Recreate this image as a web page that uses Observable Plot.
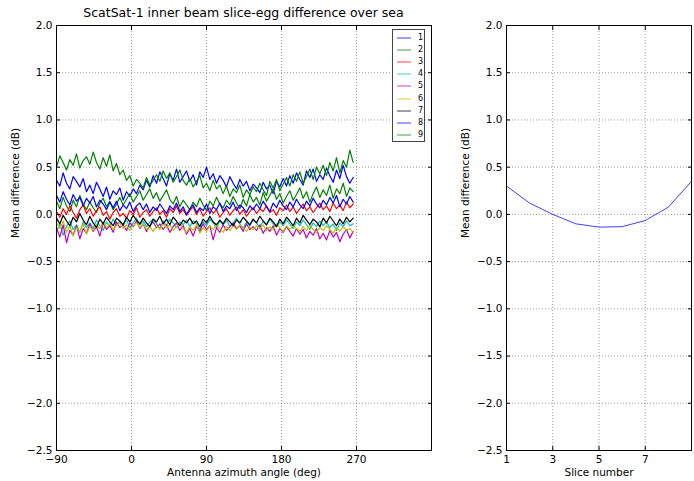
<!DOCTYPE html>
<html><head><meta charset="utf-8">
<script src="https://cdn.jsdelivr.net/npm/d3@7"></script>
<script src="https://cdn.jsdelivr.net/npm/@observablehq/plot@0.6"></script>
<style>
body{margin:0;background:#fff;font-family:"DejaVu Sans",sans-serif;}
#wrap{position:relative;width:694px;height:481px;overflow:hidden;background:#fff;}
#wrap > div.panel{position:absolute;top:0;}
#title{position:absolute;left:56px;width:375px;top:5px;text-align:center;font-size:12.5px;color:#000;white-space:nowrap;}
#legend{position:absolute;left:392px;top:29px;width:33px;height:113px;border:1px solid #444;background:#fff;box-sizing:border-box;font-size:8px;}
#legend .row{position:absolute;left:0;height:12px;width:33px;}
#legend .row svg{position:absolute;left:4px;top:3px;}
#legend .row span{position:absolute;left:25px;top:0px;line-height:12px;}
</style></head>
<body><div id="wrap"><div id="title">ScatSat-1 inner beam slice-egg difference over sea</div></div>
<script>
// ---------- data ----------
const seriesNames = ["1","2","3","4","5","6","7","8","9"];
const seriesColors = ["#0000ff","#008000","#ff0000","#00bfbf","#bf00bf","#bfbf00","#000000","#0000ff","#008000"];
const azimuth = [-90,-86,-82,-78,-74,-70,-66,-62,-58,-54,
  -50,-46,-42,-38,-34,-30,-26,-22,-18,-14,
  -10,-6,-2,2,6,10,14,18,22,26,
  30,34,38,42,46,50,54,58,62,66,
  70,74,78,82,86,90,94,98,102,106,
  110,114,118,122,126,130,134,138,142,146,
  150,154,158,162,166,170,174,178,182,186,
  190,194,198,202,206,210,214,218,222,226,
  230,234,238,242,246,250,254,258,262,266];
const s1 = [0.36,0.30,0.44,0.33,0.27,0.40,0.35,0.29,0.38,0.24,
  0.31,0.22,0.34,0.27,0.19,0.29,0.16,0.25,0.21,0.28,
  0.15,0.24,0.19,0.27,0.22,0.31,0.26,0.36,0.29,0.41,
  0.33,0.45,0.38,0.30,0.43,0.36,0.48,0.34,0.40,0.46,
  0.35,0.42,0.31,0.45,0.39,0.50,0.37,0.43,0.33,0.41,
  0.36,0.29,0.40,0.33,0.27,0.37,0.30,0.35,0.25,0.32,
  0.28,0.23,0.34,0.27,0.31,0.22,0.35,0.29,0.38,0.30,
  0.41,0.33,0.44,0.37,0.31,0.46,0.39,0.48,0.35,0.42,
  0.37,0.49,0.41,0.34,0.47,0.38,0.52,0.40,0.33,0.39];
const s2 = [0.14,0.06,0.18,0.09,0.03,0.15,0.08,0.20,0.11,0.05,
  0.13,0.07,0.02,0.12,0.17,0.08,0.14,0.05,0.11,0.18,
  0.10,0.16,0.22,0.13,0.19,0.25,0.15,0.21,0.27,0.17,
  0.23,0.14,0.20,0.26,0.16,0.11,0.19,0.08,0.15,0.10,
  0.05,0.13,0.08,0.17,0.10,0.04,0.14,0.09,0.18,0.11,
  0.07,0.15,0.10,0.19,0.12,0.06,0.16,0.09,0.21,0.13,
  0.18,0.10,0.23,0.14,0.20,0.27,0.16,0.22,0.12,0.19,
  0.25,0.15,0.21,0.28,0.17,0.24,0.13,0.22,0.29,0.18,
  0.26,0.20,0.31,0.17,0.27,0.22,0.33,0.19,0.28,0.24];
const s3 = [0.03,-0.03,0.06,0.00,0.09,0.02,-0.04,0.05,0.10,0.01,
  0.06,-0.02,0.04,0.08,-0.01,0.03,-0.05,0.02,0.06,-0.02,
  0.01,-0.04,0.04,0.00,0.07,-0.03,0.02,0.05,-0.02,0.03,
  0.07,0.00,0.04,-0.03,0.06,0.02,0.09,0.01,0.05,-0.01,
  0.04,0.08,0.00,0.06,-0.02,0.03,0.07,0.01,0.05,-0.03,
  0.02,0.06,-0.01,0.04,0.08,0.00,0.05,-0.02,0.03,0.07,
  0.01,0.06,0.03,0.09,0.02,0.05,-0.01,0.07,0.04,0.10,
  0.03,0.08,0.01,0.06,0.11,0.04,0.08,0.02,0.07,0.12,
  0.05,0.09,0.03,0.12,0.06,0.10,0.04,0.13,0.07,0.11];
const s4 = [-0.18,-0.10,-0.22,-0.13,-0.07,-0.16,-0.11,-0.19,-0.08,-0.14,
  -0.09,-0.15,-0.06,-0.12,-0.17,-0.08,-0.13,-0.05,-0.11,-0.07,
  -0.12,-0.06,-0.14,-0.09,-0.04,-0.11,-0.07,-0.13,-0.08,-0.05,
  -0.10,-0.15,-0.07,-0.12,-0.05,-0.09,-0.14,-0.08,-0.11,-0.06,
  -0.13,-0.07,-0.10,-0.16,-0.08,-0.12,-0.05,-0.09,-0.14,-0.07,
  -0.11,-0.06,-0.13,-0.09,-0.04,-0.10,-0.15,-0.08,-0.12,-0.06,
  -0.09,-0.14,-0.07,-0.11,-0.05,-0.10,-0.13,-0.08,-0.12,-0.06,
  -0.10,-0.15,-0.08,-0.12,-0.06,-0.11,-0.16,-0.09,-0.13,-0.07,
  -0.12,-0.08,-0.14,-0.10,-0.17,-0.09,-0.13,-0.07,-0.12,-0.10];
const s5 = [-0.14,-0.24,-0.11,-0.30,-0.17,-0.22,-0.12,-0.26,-0.15,-0.20,
  -0.10,-0.18,-0.13,-0.23,-0.09,-0.16,-0.12,-0.19,-0.08,-0.14,
  -0.11,-0.17,-0.09,-0.13,-0.07,-0.15,-0.10,-0.18,-0.12,-0.08,
  -0.14,-0.10,-0.16,-0.11,-0.19,-0.13,-0.09,-0.17,-0.12,-0.21,
  -0.15,-0.23,-0.13,-0.18,-0.10,-0.16,-0.12,-0.27,-0.14,-0.19,
  -0.11,-0.17,-0.13,-0.09,-0.15,-0.12,-0.18,-0.10,-0.16,-0.13,
  -0.17,-0.11,-0.20,-0.14,-0.18,-0.12,-0.22,-0.15,-0.19,-0.13,
  -0.18,-0.23,-0.15,-0.21,-0.16,-0.25,-0.18,-0.22,-0.15,-0.26,
  -0.20,-0.27,-0.17,-0.24,-0.19,-0.29,-0.21,-0.16,-0.25,-0.18];
const s6 = [-0.09,-0.15,-0.07,-0.19,-0.12,-0.23,-0.14,-0.18,-0.10,-0.21,
  -0.13,-0.17,-0.11,-0.15,-0.08,-0.14,-0.10,-0.16,-0.12,-0.09,
  -0.15,-0.11,-0.17,-0.12,-0.09,-0.14,-0.10,-0.16,-0.13,-0.18,
  -0.12,-0.16,-0.09,-0.14,-0.11,-0.17,-0.13,-0.10,-0.15,-0.19,
  -0.13,-0.17,-0.11,-0.20,-0.14,-0.18,-0.12,-0.16,-0.10,-0.15,
  -0.19,-0.13,-0.17,-0.12,-0.16,-0.11,-0.14,-0.18,-0.13,-0.16,
  -0.12,-0.15,-0.11,-0.17,-0.13,-0.16,-0.10,-0.14,-0.18,-0.12,
  -0.16,-0.11,-0.15,-0.18,-0.13,-0.17,-0.12,-0.16,-0.19,-0.14,
  -0.17,-0.12,-0.16,-0.20,-0.14,-0.18,-0.13,-0.17,-0.15,-0.19];
const s7 = [-0.04,-0.10,-0.01,-0.07,-0.12,-0.03,-0.08,0.01,-0.06,-0.11,
  -0.02,-0.09,-0.14,-0.05,-0.10,-0.03,-0.08,-0.12,-0.04,-0.07,
  -0.11,-0.03,-0.08,-0.01,-0.06,-0.10,-0.04,-0.09,-0.13,-0.05,
  -0.08,-0.02,-0.10,-0.05,-0.11,-0.03,-0.07,-0.12,-0.06,-0.09,
  -0.04,-0.10,-0.07,-0.13,-0.05,-0.09,-0.02,-0.08,-0.11,-0.06,
  -0.10,-0.04,-0.08,-0.12,-0.06,-0.09,-0.03,-0.07,-0.11,-0.05,
  -0.09,-0.02,-0.07,-0.11,-0.04,-0.08,-0.13,-0.05,-0.10,-0.03,
  -0.07,-0.12,-0.04,-0.09,-0.01,-0.06,-0.11,-0.05,-0.08,-0.13,
  -0.04,-0.09,-0.02,-0.07,-0.12,-0.05,-0.10,-0.03,-0.08,-0.04];
const s8 = [0.20,0.13,0.24,0.16,0.10,0.21,0.14,0.18,0.09,0.17,
  0.12,0.19,0.08,0.15,0.11,0.05,0.13,0.07,0.14,0.04,
  0.10,0.06,0.13,0.03,0.09,0.12,0.05,0.11,0.02,0.08,
  0.04,0.11,0.06,0.01,0.09,0.05,0.12,0.03,0.08,0.00,
  0.06,0.10,0.02,0.07,0.04,0.11,0.01,0.08,0.05,0.12,
  0.03,0.09,0.06,0.13,0.04,0.10,0.07,0.02,0.09,0.05,
  0.11,0.06,0.14,0.08,0.03,0.12,0.07,0.15,0.09,0.05,
  0.13,0.08,0.16,0.10,0.06,0.14,0.09,0.17,0.11,0.07,
  0.15,0.10,0.18,0.12,0.20,0.08,0.16,0.11,0.19,0.13];
const s9 = [0.50,0.62,0.55,0.47,0.58,0.52,0.64,0.49,0.57,0.61,
  0.53,0.66,0.55,0.48,0.60,0.51,0.63,0.46,0.54,0.42,
  0.47,0.36,0.41,0.30,0.37,0.33,0.28,0.39,0.31,0.36,
  0.42,0.35,0.46,0.38,0.44,0.34,0.40,0.47,0.36,0.31,
  0.38,0.29,0.35,0.41,0.28,0.33,0.25,0.36,0.27,0.31,
  0.22,0.30,0.19,0.27,0.23,0.31,0.18,0.26,0.21,0.29,
  0.24,0.33,0.26,0.20,0.35,0.28,0.37,0.25,0.32,0.39,
  0.30,0.42,0.35,0.45,0.33,0.40,0.48,0.37,0.50,0.43,
  0.52,0.41,0.55,0.46,0.60,0.44,0.57,0.50,0.68,0.55];
const slices = [1,2,3,4,5,6,7,8,9];
const sliceMean = [0.30,0.12,0.00,-0.10,-0.135,-0.13,-0.065,0.077,0.35];
const yTicks = [-2.5,-2.0,-1.5,-1.0,-0.5,0.0,0.5,1.0,1.5,2.0];
const azTicks = [-90,0,90,180,270];
const sliceTicks = [1,3,5,7];
const sliceGrid = [1,3,5,7,9];

// ---------- build ----------
const allSeries = [s1,s2,s3,s4,s5,s6,s7,s8,s9];
const lineData = [];
allSeries.forEach((vals, k) => vals.forEach((v, i) => lineData.push({series: seriesNames[k], az: azimuth[i], v})));
const sliceData = slices.map((s, i) => ({slice: s, v: sliceMean[i]}));
const fmtY = d => d.toFixed(1).replace("-", "\u2212");
const fmtX = d => String(d).replace("-", "\u2212");
const style = {fontFamily: "DejaVu Sans, sans-serif", fontSize: "10.5px", color: "#000", background: "transparent", overflow: "visible"};
const gridStyle = {stroke: "#000", strokeOpacity: 0.5, strokeWidth: 0.8, strokeDasharray: "1,2"};

function gridMarks(xGrid) {
  return [Plot.gridX(xGrid, gridStyle), Plot.gridY(yTicks, gridStyle)];
}
function frameMarks(xTicks, xFmt) {
  return [
    Plot.axisX(xTicks, {anchor: "bottom", tickSize: 0, tickPadding: 5, tickFormat: xFmt, label: null}),
    Plot.axisX(xTicks, {anchor: "bottom", tickSize: -4, tickFormat: () => "", label: null}),
    Plot.axisX(xTicks, {anchor: "top", tickSize: -4, tickFormat: () => "", label: null}),
    Plot.axisY(yTicks, {anchor: "left", tickSize: 0, tickPadding: 4, tickFormat: fmtY, label: null}),
    Plot.axisY(yTicks, {anchor: "left", tickSize: -4, tickFormat: () => "", label: null}),
    Plot.axisY(yTicks, {anchor: "right", tickSize: -4, tickFormat: () => "", label: null}),
    Plot.frame({stroke: "#000", strokeWidth: 1})
  ];
}

const left = Plot.plot({
  width: 440, height: 481,
  marginLeft: 56, marginRight: 9, marginTop: 25, marginBottom: 31,
  style,
  x: {domain: [-90, 360]},
  y: {domain: [-2.5, 2.0]},
  color: {domain: seriesNames, range: seriesColors},
  marks: [
    ...gridMarks(azTicks),
    Plot.line(lineData, {x: "az", y: "v", z: "series", stroke: "series", strokeWidth: 1.2}),
    ...frameMarks(azTicks, fmtX),
    Plot.text(["Antenna azimuth angle (deg)"], {frameAnchor: "bottom", dy: 25, fontSize: 10.5}),
    Plot.text(["Mean difference (dB)"], {frameAnchor: "left", dx: -41, rotate: -90, fontSize: 10.5})
  ]
});

const right = Plot.plot({
  width: 254, height: 481,
  marginLeft: 66, marginRight: 3, marginTop: 25, marginBottom: 31,
  style,
  x: {domain: [1, 9]},
  y: {domain: [-2.5, 2.0]},
  marks: [
    ...gridMarks(sliceGrid),
    Plot.line(sliceData, {x: "slice", y: "v", stroke: "#0000ff", strokeOpacity: 0.75, strokeWidth: 1}),
    ...frameMarks(sliceTicks, fmtX),
    Plot.text(["Slice number"], {frameAnchor: "bottom", dy: 25, fontSize: 10.5}),
    Plot.text(["Mean difference (dB)"], {frameAnchor: "left", dx: -41, rotate: -90, fontSize: 10.5})
  ]
});

const wrap = document.getElementById("wrap");
const p1 = document.createElement("div"); p1.className = "panel"; p1.style.left = "0px"; p1.appendChild(left);
const p2 = document.createElement("div"); p2.className = "panel"; p2.style.left = "440px"; p2.appendChild(right);
wrap.insertBefore(p2, wrap.firstChild);
wrap.insertBefore(p1, wrap.firstChild);

// legend
const leg = document.createElement("div"); leg.id = "legend";
seriesNames.forEach((name, i) => {
  const row = document.createElement("div"); row.className = "row";
  row.style.top = (2 + i * 12.1) + "px";
  row.innerHTML = `<svg width="14" height="6"><line x1="0" y1="3" x2="14" y2="3" stroke="${seriesColors[i]}" stroke-opacity="0.75" stroke-width="1"/></svg><span>${name}</span>`;
  leg.appendChild(row);
});
wrap.appendChild(leg);
</script>
</body></html>
